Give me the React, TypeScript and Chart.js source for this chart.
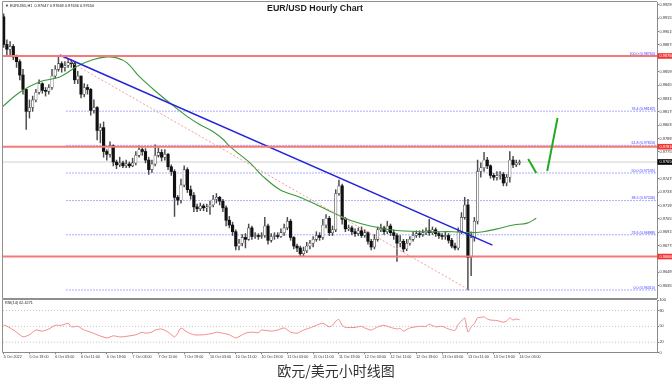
import React, { useEffect, useRef } from "react";
import { Chart, registerables } from "chart.js";
Chart.register(...registerables);

// ---------- data (EUR/USD, H1) ----------
const firstOpen = 0.9917;
const closes = [
  0.9888, 0.9883, 0.9886, 0.9875, 0.9870, 0.9856, 0.9841, 0.9818, 0.9822, 0.9830,
  0.9838, 0.9847, 0.9840, 0.9839, 0.9843, 0.9855, 0.9862, 0.9868, 0.9864, 0.9866,
  0.9869, 0.9868, 0.9851, 0.9855, 0.9836, 0.9843, 0.9841, 0.9819, 0.9822, 0.9798,
  0.9801, 0.9776, 0.9773, 0.9782, 0.9765, 0.9762, 0.9764, 0.9761, 0.9763, 0.9761,
  0.9764, 0.9772, 0.9778, 0.9776, 0.9767, 0.9757, 0.9763, 0.9772, 0.9775, 0.9770,
  0.9773, 0.9760, 0.9755, 0.9728, 0.9725, 0.9741, 0.9757, 0.9736, 0.9730, 0.9718,
  0.9716, 0.9719, 0.9717, 0.9718, 0.9720, 0.9726, 0.9728, 0.9724, 0.9717, 0.9704,
  0.9699, 0.9692, 0.9677, 0.9680, 0.9686, 0.9684, 0.9696, 0.9687, 0.9688, 0.9687,
  0.9688, 0.9698, 0.9683, 0.9687, 0.9688, 0.9687, 0.9691, 0.9696, 0.9703, 0.9686,
  0.9677, 0.9675, 0.9669, 0.9672, 0.9677, 0.9680, 0.9684, 0.9688, 0.9686, 0.9699,
  0.9706, 0.9691, 0.9694, 0.9732, 0.9740, 0.9705, 0.9695, 0.9696, 0.9692, 0.9690,
  0.9693, 0.9688, 0.9691, 0.9682, 0.9676, 0.9684, 0.9694, 0.9696, 0.9692, 0.9698,
  0.9691, 0.9688, 0.9680, 0.9682, 0.9674, 0.9680, 0.9684, 0.9688, 0.9690, 0.9689,
  0.9691, 0.9693, 0.9691, 0.9694, 0.9690, 0.9688, 0.9687, 0.9688, 0.9683, 0.9677,
  0.9675, 0.9692, 0.9707, 0.9720, 0.9665, 0.9686, 0.9703, 0.9755, 0.9759, 0.9767,
  0.9761, 0.9751, 0.9749, 0.9751, 0.9752, 0.9743, 0.9749, 0.9767, 0.9762, 0.9764,
  0.9765,
];
const highs = [
  0.9920, 0.9893, 0.9891, 0.9888, 0.9877, 0.9872, 0.9862, 0.9839, 0.9830, 0.9834,
  0.9841, 0.9851, 0.9848, 0.9843, 0.9846, 0.9862, 0.9866, 0.9876, 0.9870, 0.9870,
  0.9873, 0.9872, 0.9870, 0.9860, 0.9855, 0.9847, 0.9846, 0.9842, 0.9830, 0.9823,
  0.9805, 0.9807, 0.9778, 0.9786, 0.9783, 0.9767, 0.9770, 0.9766, 0.9767, 0.9765,
  0.9769, 0.9776, 0.9782, 0.9780, 0.9779, 0.9770, 0.9767, 0.9783, 0.9780, 0.9778,
  0.9778, 0.9774, 0.9762, 0.9757, 0.9730, 0.9747, 0.9761, 0.9759, 0.9740, 0.9733,
  0.9721, 0.9722, 0.9721, 0.9721, 0.9724, 0.9730, 0.9732, 0.9729, 0.9726, 0.9719,
  0.9708, 0.9702, 0.9694, 0.9684, 0.9689, 0.9690, 0.9700, 0.9698, 0.9691, 0.9690,
  0.9691, 0.9707, 0.9700, 0.9690, 0.9691, 0.9691, 0.9695, 0.9700, 0.9707, 0.9705,
  0.9687, 0.9679, 0.9677, 0.9676, 0.9681, 0.9683, 0.9687, 0.9692, 0.9691, 0.9705,
  0.9710, 0.9708, 0.9698, 0.9736, 0.9746, 0.9742, 0.9707, 0.9699, 0.9698, 0.9695,
  0.9696, 0.9697, 0.9694, 0.9692, 0.9684, 0.9689, 0.9697, 0.9700, 0.9698, 0.9703,
  0.9700, 0.9694, 0.9690, 0.9688, 0.9684, 0.9684, 0.9687, 0.9692, 0.9693, 0.9693,
  0.9694, 0.9696, 0.9705, 0.9697, 0.9696, 0.9692, 0.9690, 0.9692, 0.9690, 0.9685,
  0.9680, 0.9696, 0.9712, 0.9728, 0.9726, 0.9692, 0.9707, 0.9767, 0.9764, 0.9775,
  0.9770, 0.9762, 0.9753, 0.9755, 0.9755, 0.9754, 0.9752, 0.9776, 0.9771, 0.9767,
  0.9767,
];
const lows = [
  0.9885, 0.9877, 0.9877, 0.9872, 0.9864, 0.9851, 0.9836, 0.9799, 0.9811, 0.9818,
  0.9828, 0.9836, 0.9837, 0.9834, 0.9836, 0.9841, 0.9853, 0.9860, 0.9859, 0.9860,
  0.9864, 0.9864, 0.9847, 0.9847, 0.9832, 0.9833, 0.9836, 0.9814, 0.9816, 0.9788,
  0.9785, 0.9770, 0.9767, 0.9770, 0.9761, 0.9758, 0.9760, 0.9759, 0.9759, 0.9759,
  0.9760, 0.9762, 0.9770, 0.9772, 0.9764, 0.9752, 0.9754, 0.9761, 0.9770, 0.9766,
  0.9767, 0.9757, 0.9751, 0.9708, 0.9720, 0.9722, 0.9739, 0.9733, 0.9726, 0.9713,
  0.9713, 0.9714, 0.9714, 0.9713, 0.9710, 0.9718, 0.9722, 0.9720, 0.9713, 0.9698,
  0.9696, 0.9688, 0.9673, 0.9673, 0.9677, 0.9675, 0.9683, 0.9684, 0.9685, 0.9684,
  0.9685, 0.9686, 0.9679, 0.9681, 0.9684, 0.9685, 0.9686, 0.9688, 0.9694, 0.9683,
  0.9674, 0.9671, 0.9667, 0.9667, 0.9670, 0.9674, 0.9676, 0.9682, 0.9683, 0.9684,
  0.9696, 0.9688, 0.9688, 0.9692, 0.9730, 0.9700, 0.9692, 0.9693, 0.9689, 0.9687,
  0.9688, 0.9686, 0.9686, 0.9679, 0.9673, 0.9674, 0.9682, 0.9692, 0.9689, 0.9690,
  0.9688, 0.9684, 0.9661, 0.9676, 0.9671, 0.9672, 0.9678, 0.9682, 0.9686, 0.9686,
  0.9687, 0.9689, 0.9688, 0.9689, 0.9687, 0.9685, 0.9684, 0.9684, 0.9680, 0.9675,
  0.9673, 0.9673, 0.9690, 0.9705, 0.9631, 0.9646, 0.9682, 0.9700, 0.9749, 0.9755,
  0.9758, 0.9748, 0.9746, 0.9746, 0.9747, 0.9740, 0.9740, 0.9744, 0.9759, 0.9760,
  0.9762,
];

// moving average (bar index / price)
const maBars = [-0.3, 5, 11.2, 17.4, 22.7, 27.6, 32, 35.1, 38.2, 42.2, 47.5, 52.2, 56.8, 60.9, 64.9, 68.3, 70.2, 76.4, 80.4, 85.7, 91.9, 97.2, 103.4, 108.4, 113.7, 119.9, 129.2, 139.4, 144.7, 148.8, 153.1, 158.1, 162.4, 165.2];
const maValues = [0.9823, 0.9838, 0.9849, 0.9854, 0.9865, 0.9872, 0.9875, 0.9874, 0.9869, 0.9854, 0.9838, 0.9825, 0.9813, 0.9804, 0.9797, 0.9788, 0.9781, 0.9764, 0.9750, 0.9736, 0.9728, 0.9720, 0.9710, 0.9703, 0.9698, 0.9694, 0.9692, 0.9692, 0.9691, 0.9692, 0.9695, 0.9699, 0.9701, 0.9706];

// RSI(14)
const rsiBars = [0, 2, 4, 6, 8, 10, 12, 14, 16, 18, 20, 21, 23, 25, 27, 29, 32, 34, 36, 38, 41, 43, 44, 46, 47, 49, 51, 53, 54, 55, 57, 59, 62, 65, 66, 68, 70, 72, 74, 75, 77, 79, 80, 83, 85, 87, 89, 91, 93, 95, 97, 99, 101, 102, 103, 104, 105, 106, 109, 111, 112, 114, 116, 118, 120, 122, 123, 124, 126, 129, 131, 132, 134, 136, 138, 139, 140, 141, 142, 143, 144, 145, 146, 147, 148, 149, 150, 151, 153, 155, 156, 157, 158, 159, 160];
const rsiValues = [53, 47, 39, 30, 34, 43, 41, 45, 52, 52, 56, 49, 50, 43, 39, 34, 28, 32, 30, 31, 34, 39, 37, 39, 43, 45, 39, 30, 37, 47, 39, 34, 34, 37, 39, 37, 34, 28, 34, 37, 39, 38, 43, 41, 43, 47, 39, 37, 43, 47, 52, 56, 49, 52, 60, 63, 52, 48, 48, 50, 47, 43, 49, 52, 48, 45, 46, 41, 47, 50, 50, 54, 49, 50, 45, 43, 42, 54, 60, 66, 39, 49, 55, 66, 67, 68, 64, 62, 61, 58, 60, 66, 62, 64, 62.43];
const rsiLevels = [20, 50, 80];
const rsiTicks = [0, 20, 50, 80, 100];

// levels and drawings
const fibLevels = [100, 76.4, 61.8, 50, 38.2, 23.6, 0];
const fibPrices = [0.9876, 0.98182, 0.97824, 0.97535, 0.97246, 0.96888, 0.9631];
const redLevels = [0.9876, 0.9781, 0.9666];
const currentPrice = 0.9765;
const trendBars = [17.4, 151.6];
const trendPrices = [0.9877, 0.9678];
const fibDiagBars = [17.4, 144.4];
const fibDiagPrices = [0.9876, 0.9631];
const arrowDownBars = [162.7, 165.2];
const arrowDownPrices = [0.9768, 0.97535];
const arrowUpBars = [168.6, 171.8];
const arrowUpPrices = [0.97556, 0.98111];

// axes
const yTicks = [0.99295, 0.99155, 0.99015, 0.98875, 0.98595, 0.98455, 0.98315, 0.98175, 0.98035, 0.97895, 0.97755, 0.97475, 0.97335, 0.97195, 0.97055, 0.96915, 0.96775, 0.96495, 0.96355];
const xLabelBars = [0, 8, 16, 24, 32, 40, 48, 56, 64, 72, 80, 88, 96, 104, 112, 120, 128, 136, 144, 152, 160];
const xLabels = ["5 Oct 2022", "5 Oct 19:00", "6 Oct 03:00", "6 Oct 11:00", "6 Oct 19:00", "7 Oct 03:00", "7 Oct 11:00", "7 Oct 19:00", "10 Oct 03:00", "10 Oct 11:00", "10 Oct 19:00", "11 Oct 03:00", "11 Oct 11:00", "11 Oct 19:00", "12 Oct 03:00", "12 Oct 11:00", "12 Oct 19:00", "13 Oct 03:00", "13 Oct 11:00", "13 Oct 19:00", "14 Oct 03:00"];
const xMin = -0.2;
const xMax = 202.65;
const yMin = 0.96226;
const yMax = 0.99325;

const titleText = "EUR/USD Hourly Chart";
const infoText = "\u25BC EURUSD,H1  0.97647 0.97668 0.97636 0.97650";
const rsiText = "RSI(14) 62.4271";
const captionText = "欧元/美元小时线图";

const FONT = '"Liberation Sans", Arial, sans-serif';

function seg(bars: number[], vals: number[]) {
  return bars.map((b, i) => ({ x: b, y: vals[i] }));
}

export default function App() {
  const mainRef = useRef<HTMLCanvasElement>(null);
  const rsiRef = useRef<HTMLCanvasElement>(null);

  useEffect(() => {
    document.body.style.margin = "0";
    const opens = [firstOpen, ...closes.slice(0, -1)];
    const bull = (i: number) => closes[i] > opens[i];

    const wickData = closes.map((c, i) => ({
      x: i,
      y: [Math.min(lows[i], opens[i], c), Math.max(highs[i], opens[i], c)],
    }));
    const bodyData = closes.map((c, i) => ({ x: i, y: [opens[i], c] }));

    const hline = (p: number, from = xMin) => [
      { x: from, y: p },
      { x: xMax, y: p },
    ];

    const lineDs = (data: any[], color: string, width: number, order: number, extra: any = {}) => ({
      type: "line",
      data,
      borderColor: color,
      borderWidth: width,
      pointRadius: 0,
      fill: false,
      order,
      ...extra,
    });

    const mainOverlay = {
      id: "mainOverlay",
      afterDraw(chart: any) {
        const { ctx, chartArea: a, scales } = chart;
        const ys = scales.y;
        ctx.save();
        // frame
        ctx.strokeStyle = "#8f8f8f";
        ctx.lineWidth = 1;
        ctx.beginPath();
        ctx.moveTo(a.left - 0.5, a.bottom + 0.5);
        ctx.lineTo(a.left - 0.5, a.top - 0.5);
        ctx.lineTo(a.right, a.top - 0.5);
        ctx.moveTo(a.left - 0.5, a.bottom + 0.5);
        ctx.lineTo(a.right, a.bottom + 0.5);
        ctx.stroke();
        // fib labels
        ctx.font = `3.6px ${FONT}`;
        ctx.fillStyle = "#3a3aff";
        ctx.textAlign = "right";
        ctx.textBaseline = "bottom";
        fibLevels.forEach((lv, i) => {
          ctx.fillText(`${lv.toFixed(1)} (${fibPrices[i].toFixed(5)})`, a.right - 2, ys.getPixelForValue(fibPrices[i]) - 0.3);
        });
        // axis price tags
        const tag = (p: number, bg: string) => {
          const py = ys.getPixelForValue(p);
          ctx.fillStyle = bg;
          ctx.fillRect(a.right + 0.5, py - 2.8, chart.width - a.right, 5.6);
          ctx.fillStyle = "#ffffff";
          ctx.font = `3.9px ${FONT}`;
          ctx.textAlign = "left";
          ctx.textBaseline = "middle";
          ctx.fillText(p.toFixed(5), a.right + 2.5, py);
        };
        redLevels.forEach((p) => tag(p, "#f03434"));
        tag(currentPrice, "#000000");
        // info text
        ctx.fillStyle = "#222";
        ctx.textAlign = "left";
        ctx.textBaseline = "middle";
        ctx.font = `3.9px ${FONT}`;
        ctx.fillText(infoText, a.left + 2, a.top + 3.5);
        // title
        ctx.font = `bold 9.5px ${FONT}`;
        ctx.textAlign = "center";
        ctx.fillStyle = "#1e1e1e";
        ctx.fillText(titleText, 315, 8.8, 96);
        ctx.restore();
      },
    };

    const mainChart = new Chart(mainRef.current as HTMLCanvasElement, {
      type: "bar",
      data: {
        datasets: [
          lineDs(hline(currentPrice), "#cfcfcf", 1, 40),
          ...fibPrices.map((p) => lineDs(hline(p, 19.5), "#5a5aff", 1, 35, { borderDash: [1, 2] })),
          {
            type: "bar",
            data: wickData,
            backgroundColor: "#4a4a4a",
            barThickness: 0.8,
            grouped: false,
            order: 30,
          },
          {
            type: "bar",
            data: bodyData,
            backgroundColor: (c: any) => (bull(c.dataIndex) ? "#ffffff" : "#111111"),
            borderColor: (c: any) => (bull(c.dataIndex) ? "#3c3c3c" : "#111111"),
            borderWidth: (c: any) => (bull(c.dataIndex) ? 0.6 : 0),
            borderSkipped: false,
            barThickness: 2.5,
            minBarLength: 0.8,
            grouped: false,
            order: 29,
          },
          lineDs(seg(maBars, maValues), "#3a9a3a", 1.1, 15, { tension: 0.35 }),
          lineDs(seg(fibDiagBars, fibDiagPrices), "#f59a9a", 1, 14, { borderDash: [2, 2] }),
          lineDs(seg(trendBars, trendPrices), "#2424d8", 1.5, 12),
          ...redLevels.map((p) => lineDs(hline(p), "#f47a7a", 2, 10)),
          lineDs(seg(arrowDownBars, arrowDownPrices), "#22aa22", 2, 5),
          lineDs(seg(arrowUpBars, arrowUpPrices), "#22aa22", 2, 5),
        ] as any,
      },
      options: {
        responsive: false,
        animation: false,
        events: [],
        layout: { padding: { left: 3, top: 2, right: 0, bottom: 2 } },
        plugins: { legend: { display: false }, tooltip: { enabled: false } },
        scales: {
          x: { type: "linear", min: xMin, max: xMax, offset: false, display: false, grid: { offset: false } },
          y: {
            type: "linear",
            position: "right",
            min: yMin,
            max: yMax,
            afterBuildTicks: (s: any) => {
              s.ticks = yTicks.map((v) => ({ value: v }));
            },
            afterFit: (s: any) => {
              s.width = 15;
              s.paddingTop = 0;
              s.paddingBottom = 0;
            },
            grid: { drawOnChartArea: false, drawTicks: true, tickLength: 2, color: "#808080" },
            border: { display: true, color: "#8a8a8a" },
            ticks: {
              autoSkip: false,
              padding: 0.5,
              color: "#333",
              font: { size: 3.9, family: FONT },
              callback: (v: any) => Number(v).toFixed(5),
            },
          },
        },
      } as any,
      plugins: [mainOverlay],
    });

    const rsiOverlay = {
      id: "rsiOverlay",
      afterDraw(chart: any) {
        const { ctx, chartArea: a } = chart;
        ctx.save();
        ctx.strokeStyle = "#8f8f8f";
        ctx.lineWidth = 1;
        ctx.beginPath();
        ctx.moveTo(a.left - 0.5, a.bottom);
        ctx.lineTo(a.left - 0.5, a.top - 0.5);
        ctx.lineTo(a.right, a.top - 0.5);
        ctx.stroke();
        ctx.fillStyle = "#222";
        ctx.font = `3.8px ${FONT}`;
        ctx.textAlign = "left";
        ctx.textBaseline = "middle";
        ctx.fillText(rsiText, a.left + 2, a.top + 2.6);
        ctx.restore();
      },
    };

    const rsiChart = new Chart(rsiRef.current as HTMLCanvasElement, {
      type: "line",
      data: {
        datasets: [
          ...rsiLevels.map((v) => lineDs(hline(v), "#c4c4c4", 1, 10, { borderDash: [1, 2] })),
          lineDs(seg(rsiBars, rsiValues), "#f28a8a", 1, 1, { tension: 0.2 }),
        ] as any,
      },
      options: {
        responsive: false,
        animation: false,
        events: [],
        layout: { padding: { left: 3, top: 2, right: 0, bottom: 0 } },
        plugins: { legend: { display: false }, tooltip: { enabled: false } },
        scales: {
          x: {
            type: "linear",
            min: xMin,
            max: xMax,
            offset: false,
            afterBuildTicks: (s: any) => {
              s.ticks = xLabelBars.map((v) => ({ value: v }));
            },
            afterFit: (s: any) => {
              s.height = 9.3;
              s.paddingLeft = 0;
              s.paddingRight = 0;
            },
            grid: { drawOnChartArea: false, drawTicks: true, tickLength: 1.5, color: "#808080" },
            border: { display: true, color: "#8a8a8a" },
            ticks: {
              autoSkip: false,
              maxRotation: 0,
              minRotation: 0,
              align: "start",
              padding: 0.8,
              color: "#333",
              font: { size: 3.7, family: FONT },
              callback: (_v: any, i: number) => xLabels[i],
            },
          },
          y: {
            type: "linear",
            position: "right",
            min: 0,
            max: 100,
            afterBuildTicks: (s: any) => {
              s.ticks = rsiTicks.map((v) => ({ value: v }));
            },
            afterFit: (s: any) => {
              s.width = 15;
              s.paddingTop = 0;
              s.paddingBottom = 0;
            },
            grid: { drawOnChartArea: false, drawTicks: true, tickLength: 2, color: "#808080" },
            border: { display: true, color: "#8a8a8a" },
            ticks: {
              autoSkip: false,
              padding: 0.5,
              color: "#333",
              font: { size: 3.8, family: FONT },
              callback: (v: any) => String(v),
            },
          },
        },
      } as any,
      plugins: [rsiOverlay],
    });

    return () => {
      mainChart.destroy();
      rsiChart.destroy();
    };
  }, []);

  return (
    <div style={{ position: "relative", width: 672, height: 382, background: "#ffffff", overflow: "hidden" }}>
      <canvas ref={mainRef} width={672} height={300} style={{ position: "absolute", left: 0, top: 0 }} />
      <canvas ref={rsiRef} width={672} height={64} style={{ position: "absolute", left: 0, top: 298 }} />
      <div
        style={{
          position: "absolute",
          left: 0,
          top: 362,
          width: 672,
          textAlign: "center",
          fontFamily: '"Noto Sans CJK SC", sans-serif',
          fontSize: 14,
          lineHeight: "16px",
          color: "#333",
        }}
      >
        {captionText}
      </div>
    </div>
  );
}
